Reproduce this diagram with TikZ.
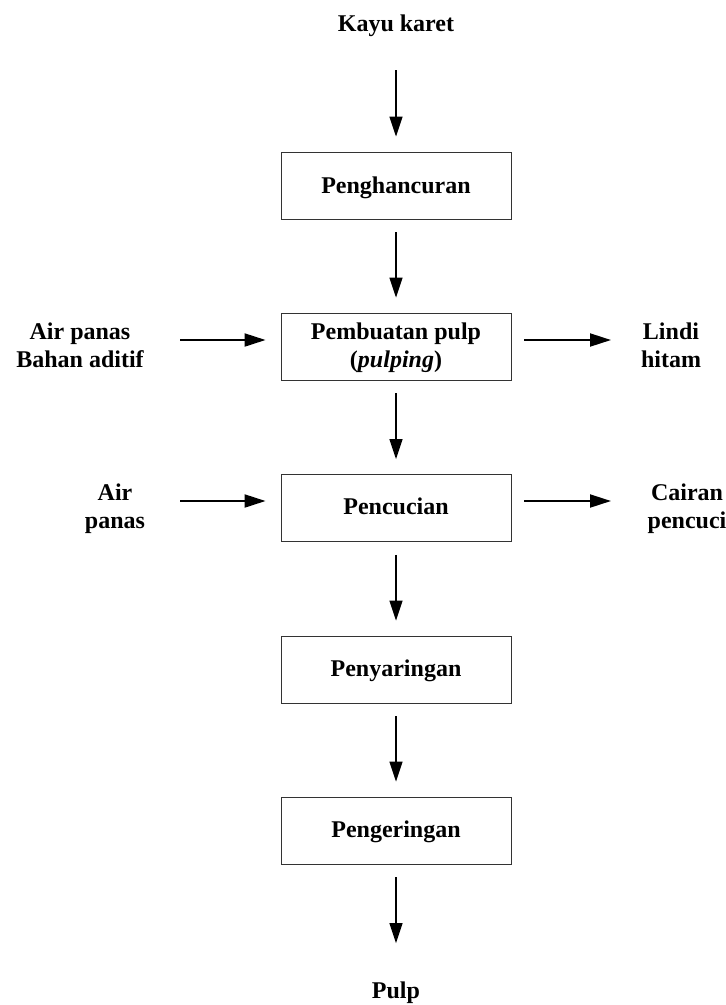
\documentclass[tikz,border=0pt]{standalone}
\usepackage{fontspec}
\setmainfont{Liberation Serif}
\usetikzlibrary{arrows.meta}
\begin{document}
\begin{tikzpicture}[x=1pt,y=-1pt,
  every node/.style={font=\fontsize{24}{28}\selectfont\bfseries},
  procbox/.style={draw=black!80,line width=0.9pt,minimum width=230pt,minimum height=67pt,inner sep=0pt},
  lbl/.style={inner sep=0pt,align=center,anchor=base},
  varrow/.style={line width=1.3pt,-{Triangle[length=20pt,width=13pt]},shorten <=13pt,shorten >=15pt},
  harrow/.style={line width=2pt,-{Triangle[length=21pt,width=13pt]}}
]
\useasboundingbox (0,0) rectangle (726,1005);

% process boxes
\node[procbox] (b1) at (396,185.5) {};
\node[procbox] (b2) at (396,346.5) {};
\node[procbox] (b3) at (396,508) {};
\node[procbox] (b4) at (396,669.5) {};
\node[procbox] (b5) at (396,830.5) {};

% box texts (base = baseline of last line)
\node[lbl] (t1) at (396,193) {Penghancuran};
\node[lbl] (t2) at (396,367) {Pembuatan pulp\\(\textit{pulping})};
\node[lbl] (t3) at (396,514) {Pencucian};
\node[lbl] (t4) at (396,676) {Penyaringan};
\node[lbl] (t5) at (396,837) {Pengeringan};

% outer labels
\node[lbl] (kayu) at (396,31) {Kayu karet};
\node[lbl] (pulp) at (396,998) {Pulp};
\node[lbl] (in1) at (80,367) {Air panas\\Bahan aditif};
\node[lbl] (out1) at (671,367) {Lindi\\hitam};
\node[lbl] (in2) at (115,528) {Air\\panas};
\node[lbl] (out2) at (687,528) {Cairan\\pencuci};

% vertical arrows
\draw[varrow,shorten <=34pt] (kayu) -- (b1);
\draw[varrow] (b1) -- (b2);
\draw[varrow] (b2) -- (b3);
\draw[varrow] (b3) -- (b4);
\draw[varrow] (b4) -- (b5);
\draw[varrow,shorten >=38pt] (b5) -- (pulp);

% horizontal arrows
\coordinate (a1) at (180,340);
\coordinate (a2) at (611,340);
\coordinate (a3) at (180,501);
\coordinate (a4) at (611,501);
\draw[harrow,shorten >=15pt] (a1) -- (a1 -| b2.west);
\draw[harrow,shorten <=13pt] (a2 -| b2.east) -- (a2);
\draw[harrow,shorten >=15pt] (a3) -- (a3 -| b3.west);
\draw[harrow,shorten <=13pt] (a4 -| b3.east) -- (a4);
\end{tikzpicture}
\end{document}
